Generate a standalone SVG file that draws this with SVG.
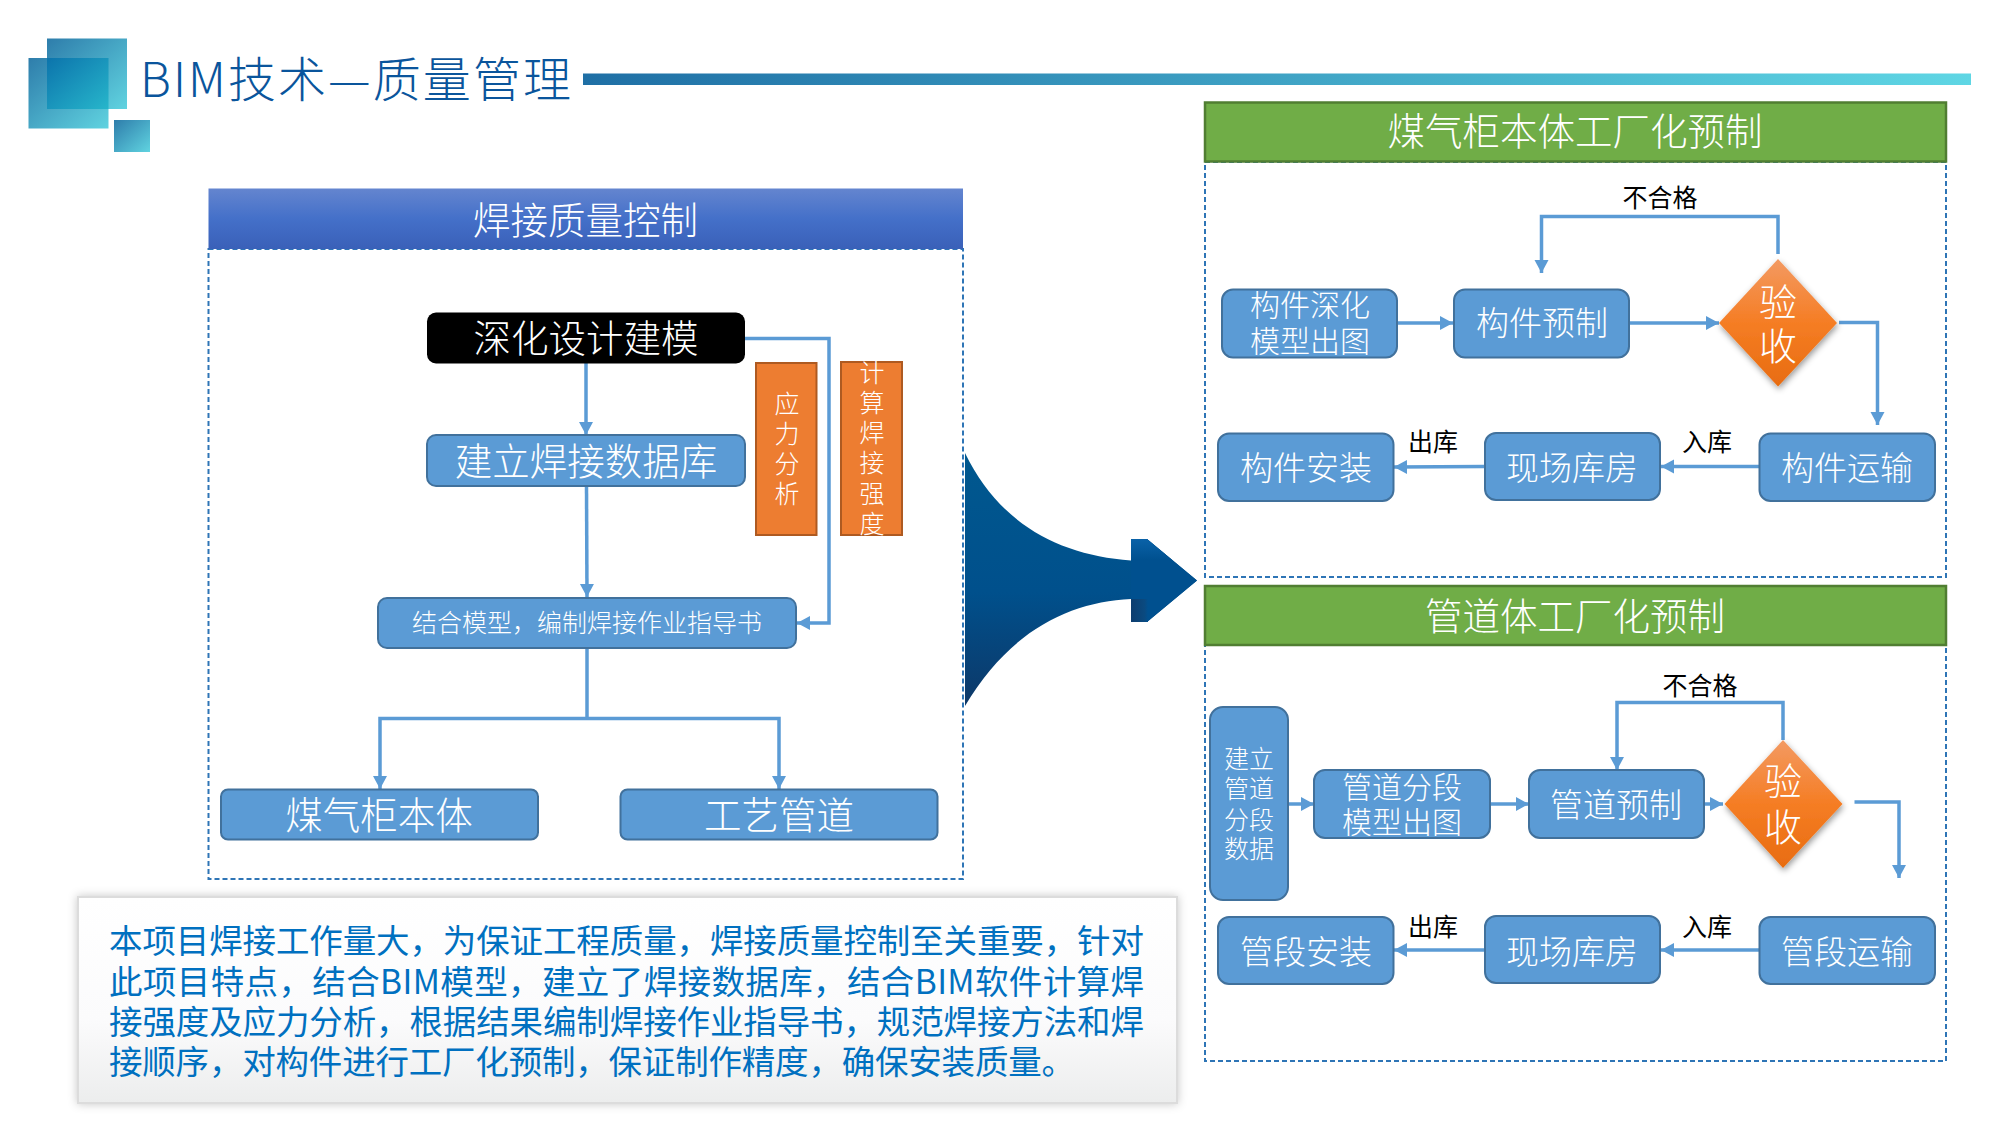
<svg xmlns="http://www.w3.org/2000/svg" width="2000" height="1125" viewBox="0 0 2000 1125">
<style>
text{font-family:"Noto Sans CJK SC","Noto Sans",sans-serif;font-weight:300}
.c{text-anchor:middle;dominant-baseline:central;transform:translateY(-3px)}
.w{fill:#fff}
.n{fill:#5b9bd5;stroke:#41719c;stroke-width:2}
.o{fill:#ed7d31;stroke:#ae5a21;stroke-width:2}
.s33{font-size:33px}
.s30{font-size:30px}
.s37{font-size:37.500px}
.s25{font-size:25px}
.k{fill:#000;font-size:25px;font-weight:400}
.d{fill:#fff;stroke:#2e75b6;stroke-width:2;stroke-dasharray:5 3}
.l{fill:none;stroke:#5b9bd5;stroke-width:3.500}
.a{marker-end:url(#ah)}
.g{fill:#70ad47;stroke:#507e32;stroke-width:2.500}
.b{fill:#0070c0;font-size:33.500px;font-weight:400}
</style>
<defs>
<marker id="ah" markerUnits="userSpaceOnUse" markerWidth="14" markerHeight="16" refX="13" refY="8" orient="auto"><path d="M0 1L13 8L0 15z" fill="#5b9bd5"/></marker>
<linearGradient id="lg" x1="0" y1="0" x2="1" y2="1"><stop offset="0" stop-color="#2e7dab"/><stop offset="1" stop-color="#60d3e0"/></linearGradient>
<linearGradient id="lo" x1="0" y1="0" x2="1" y2="1"><stop offset="0" stop-color="#0c74ac"/><stop offset="1" stop-color="#27b6cb"/></linearGradient>
<linearGradient id="bar" x1="0" y1="0" x2="1" y2="0"><stop offset="0" stop-color="#1f6fa5"/><stop offset="1" stop-color="#5fd6e4"/></linearGradient>
<linearGradient id="hb" x1="0" y1="0" x2="0" y2="1"><stop offset="0" stop-color="#6485cf"/><stop offset=".5" stop-color="#4470c9"/><stop offset="1" stop-color="#3a60b8"/></linearGradient>
<linearGradient id="dm" x1="0" y1="0" x2="0" y2="1"><stop offset="0" stop-color="#f39a62"/><stop offset=".5" stop-color="#f57d24"/><stop offset="1" stop-color="#e86c10"/></linearGradient>
<linearGradient id="bl" x1="0" y1="0" x2="0" y2="1"><stop offset="0" stop-color="#00588f"/><stop offset=".55" stop-color="#00508c"/><stop offset="1" stop-color="#0d3868"/></linearGradient>
<linearGradient id="hu" x1="0" y1="0" x2="0" y2="1"><stop offset="0" stop-color="#0a62a8"/><stop offset="1" stop-color="#00508f"/></linearGradient>
<linearGradient id="hd" x1="0" y1="0" x2="1" y2="0"><stop offset="0" stop-color="#0d3d6e"/><stop offset=".8" stop-color="#0a4a80"/><stop offset="1" stop-color="#00508f"/></linearGradient>
<linearGradient id="tb" x1="0" y1="0" x2="0" y2="1"><stop offset="0" stop-color="#fff"/><stop offset=".6" stop-color="#fbfbfc"/><stop offset="1" stop-color="#eceded"/></linearGradient>
<filter id="sd" x="-20%" y="-20%" width="140%" height="140%"><feDropShadow dx="1" dy="3" stdDeviation="3" flood-color="#000" flood-opacity=".4"/></filter>
<filter id="st" x="-5%" y="-10%" width="110%" height="120%"><feDropShadow dx="0" dy="0" stdDeviation="5" flood-color="#000" flood-opacity=".22"/></filter>
</defs>

<g id="logo">
<rect x="47" y="38.500" width="80" height="70.500" fill="url(#lg)"/>
<rect x="28.500" y="58" width="80" height="70.500" fill="url(#lg)"/>
<rect x="47" y="58" width="61.500" height="51" fill="url(#lo)"/>
<rect x="114" y="120" width="36" height="32" fill="url(#lg)"/>
</g>
<text id="title" x="140" y="97" font-size="48" fill="#0a559c" textLength="431">BIM技术—质量管理</text>
<rect id="titlebar" x="583" y="73.500" width="1388" height="11.500" fill="url(#bar)"/>

<g id="panel-left">
<rect class="d" x="208.500" y="249" width="754.500" height="630"/>
<rect x="208.500" y="188.500" width="754.500" height="60.500" fill="url(#hb)"/>
<text class="c w s37" x="585.500" y="220">焊接质量控制</text>
</g>

<g id="panel-top">
<rect class="d" x="1205" y="162" width="741" height="415"/>
<rect class="g" x="1205" y="102.500" width="741" height="59"/>
<text class="c w s37" x="1575" y="131">煤气柜本体工厂化预制</text>
</g>

<g id="panel-bottom">
<rect class="d" x="1205" y="645" width="741" height="416"/>
<rect class="g" x="1205" y="586" width="741" height="59"/>
<text class="c w s37" x="1575" y="616">管道体工厂化预制</text>
</g>

<g id="big-arrow">
<path d="M965 453C1000 525 1060 555 1131 560.500V539H1147L1197 580.500L1147 622H1131V599C1070 602 1010 630 965 706Z" fill="url(#bl)"/>
<path d="M1131 539H1147L1197 580.500L1147 622H1131Z" fill="#00508f"/>
<path d="M1131 539H1147L1172 560H1131Z" fill="url(#hu)"/>
<rect x="1131" y="599" width="17" height="23" fill="url(#hd)"/>
</g>

<g id="connectors">
<path class="l a" d="M586 363V435"/>
<path class="l a" d="M586.500 486L587 597"/>
<path class="l a" d="M745 338.500H829V623H797"/>
<path class="l" d="M587 648V718.500"/>
<path class="l a" d="M587 718.500H380V789"/>
<path class="l a" d="M587 718.500H779V789"/>
<path class="l a" d="M1397 323H1453"/>
<path class="l a" d="M1630 323H1719"/>
<path class="l a" d="M1778 254V216.500H1541.500V273"/>
<path class="l a" d="M1839 322.500H1877.500V425"/>
<path class="l a" d="M1759 466.500H1661"/>
<path class="l a" d="M1484 466.500L1394 467"/>
<path class="l a" d="M1288 804H1314"/>
<path class="l a" d="M1490 804H1529"/>
<path class="l a" d="M1704 804H1723"/>
<path class="l a" d="M1783 740V702.500H1617V770"/>
<path class="l a" d="M1854.500 802H1899V878"/>
<path class="l a" d="M1759 950H1661"/>
<path class="l a" d="M1484 950H1394"/>
</g>

<g id="n-shenhua"><rect x="427" y="312.500" width="318" height="51" rx="9" fill="#000"/><text class="c w s37" x="586" y="338">深化设计建模</text></g>
<g id="n-shujuku"><rect class="n" x="427" y="435" width="318" height="51" rx="9"/><text class="c w s37" x="586" y="461">建立焊接数据库</text></g>
<g id="n-yingli"><rect class="o" x="756" y="363" width="60.500" height="172"/>
<text class="c w s25" x="787" y="405">应</text><text class="c w s25" x="787" y="434.500">力</text><text class="c w s25" x="787" y="464.500">分</text><text class="c w s25" x="787" y="495">析</text></g>
<g id="n-jisuan"><rect class="o" x="841" y="362" width="61" height="173"/>
<text class="c w s25" x="872" y="374">计</text><text class="c w s25" x="872" y="404">算</text><text class="c w s25" x="872" y="434">焊</text><text class="c w s25" x="872" y="464">接</text><text class="c w s25" x="872" y="495">强</text><text class="c w s25" x="872" y="525">度</text></g>
<g id="n-zhidaoshu"><rect class="n" x="378" y="598" width="418" height="50" rx="9"/><text class="c w s25" x="587" y="624">结合模型，编制焊接作业指导书</text></g>
<g id="n-benti"><rect class="n" x="221" y="789.500" width="317" height="50" rx="7"/><text class="c w s37" x="379" y="815">煤气柜本体</text></g>
<g id="n-guandao"><rect class="n" x="620.500" y="789.500" width="317" height="50" rx="7"/><text class="c w s37" x="779" y="815">工艺管道</text></g>

<g id="n-top-1"><rect class="n" x="1222" y="289.500" width="175" height="68" rx="11"/><text class="c w s30" x="1310" y="306">构件深化</text><text class="c w s30" x="1310" y="342">模型出图</text></g>
<g id="n-top-2"><rect class="n" x="1454" y="289.500" width="175" height="68" rx="11"/><text class="c w s33" x="1542" y="324">构件预制</text></g>
<g id="n-top-d"><path d="M1778 259L1837 323L1778 386.500L1719 323Z" fill="url(#dm)" filter="url(#sd)"/><text class="c w" font-size="38" x="1778" y="302.500">验</text><text class="c w" font-size="38" x="1778" y="346">收</text></g>
<g id="n-top-3"><rect class="n" x="1759.500" y="433.500" width="175.500" height="67.500" rx="11"/><text class="c w s33" x="1847" y="469">构件运输</text></g>
<g id="n-top-4"><rect class="n" x="1485" y="433" width="175" height="67" rx="11"/><text class="c w s33" x="1572" y="469">现场库房</text></g>
<g id="n-top-5"><rect class="n" x="1218" y="433.500" width="175.500" height="67.500" rx="11"/><text class="c w s33" x="1306" y="469">构件安装</text></g>
<text class="c k" x="1660" y="199">不合格</text>
<text class="c k" x="1433" y="443">出库</text>
<text class="c k" x="1707" y="443">入库</text>

<g id="n-bot-0"><rect class="n" x="1210" y="707" width="78" height="193" rx="13"/><text class="c w s25" x="1249" y="760">建立</text><text class="c w s25" x="1249" y="790">管道</text><text class="c w s25" x="1249" y="820.500">分段</text><text class="c w s25" x="1249" y="850">数据</text></g>
<g id="n-bot-1"><rect class="n" x="1314" y="770" width="176" height="68" rx="11"/><text class="c w s30" x="1402" y="788">管道分段</text><text class="c w s30" x="1402" y="823">模型出图</text></g>
<g id="n-bot-2"><rect class="n" x="1529" y="770" width="175" height="68" rx="11"/><text class="c w s33" x="1616" y="806">管道预制</text></g>
<g id="n-bot-d"><path d="M1783 740L1842.500 804L1783 868L1724.500 804Z" fill="url(#dm)" filter="url(#sd)"/><text class="c w" font-size="38" x="1783" y="781.500">验</text><text class="c w" font-size="38" x="1783" y="827">收</text></g>
<g id="n-bot-3"><rect class="n" x="1759.500" y="917" width="175.500" height="67" rx="11"/><text class="c w s33" x="1847" y="953">管段运输</text></g>
<g id="n-bot-4"><rect class="n" x="1485" y="916" width="175" height="67" rx="11"/><text class="c w s33" x="1572" y="953">现场库房</text></g>
<g id="n-bot-5"><rect class="n" x="1218" y="917" width="175.500" height="67" rx="11"/><text class="c w s33" x="1306" y="953">管段安装</text></g>
<text class="c k" x="1700" y="687">不合格</text>
<text class="c k" x="1433" y="928">出库</text>
<text class="c k" x="1707" y="928">入库</text>

<g id="note">
<rect x="78" y="897" width="1099" height="206" fill="url(#tb)" stroke="#dcdcdc" stroke-width="2" filter="url(#st)"/>
<text class="b" x="109" y="953" textLength="1035">本项目焊接工作量大，为保证工程质量，焊接质量控制至关重要，针对</text>
<text class="b" x="109" y="994" textLength="1035">此项目特点，结合BIM模型，建立了焊接数据库，结合BIM软件计算焊</text>
<text class="b" x="109" y="1034" textLength="1035">接强度及应力分析，根据结果编制焊接作业指导书，规范焊接方法和焊</text>
<text class="b" x="109" y="1074" textLength="966">接顺序，对构件进行工厂化预制，保证制作精度，确保安装质量。</text>
</g>
</svg>
